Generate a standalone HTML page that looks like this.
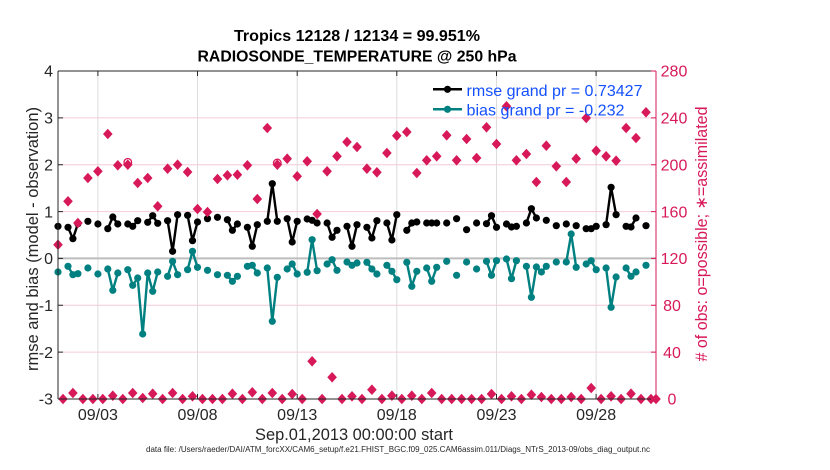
<!DOCTYPE html>
<html><head><meta charset="utf-8"><style>
html,body{margin:0;padding:0;background:#fff;}
svg{display:block;}
</style></head><body>
<svg width="830" height="470" viewBox="0 0 830 470" xmlns="http://www.w3.org/2000/svg" xmlns:xlink="http://www.w3.org/1999/xlink" font-family="'Liberation Sans', Arial, Helvetica, sans-serif">
<defs>
<path id="d" d="M0,-5.3 L4.8,0 L0,5.3 L-4.8,0Z" fill="#d7195a"/>
</defs>
<rect x="0" y="0" width="830" height="470" fill="#fff"/>
<!-- grid -->
<g stroke="#dddddd" stroke-width="1">
<line x1="97.9" y1="71" x2="97.9" y2="399"/>
<line x1="197.5" y1="71" x2="197.5" y2="399"/>
<line x1="297.2" y1="71" x2="297.2" y2="399"/>
<line x1="396.8" y1="71" x2="396.8" y2="399"/>
<line x1="496.5" y1="71" x2="496.5" y2="399"/>
<line x1="596.1" y1="71" x2="596.1" y2="399"/>
</g>
<g stroke="#f3cbda" stroke-width="1">
<line x1="58" y1="117.9" x2="656" y2="117.9"/>
<line x1="58" y1="164.7" x2="656" y2="164.7"/>
<line x1="58" y1="211.6" x2="656" y2="211.6"/>
<line x1="58" y1="305.3" x2="656" y2="305.3"/>
<line x1="58" y1="352.1" x2="656" y2="352.1"/>
</g>
<line x1="58" y1="258.4" x2="656" y2="258.4" stroke="#bdbdbd" stroke-width="2"/>

<!-- teal bias lines -->
<g fill="none" stroke="#008080" stroke-width="2.4" stroke-linejoin="round">
<polyline points="68.0,266.3 72.9,274.7 77.9,273.7"/>
<polyline points="107.8,269.0 112.8,290.3 117.8,273.0"/>
<polyline points="127.8,269.7 132.7,285.3 137.7,278.0 142.7,334.0 147.7,273.0 152.7,291.3 157.7,272.0"/>
<polyline points="167.6,276.3 172.6,261.3 177.6,274.7"/>
<polyline points="187.6,269.7 192.5,251.3 197.5,267.3"/>
<polyline points="227.4,275.3 232.4,281.3 237.4,276.3"/>
<polyline points="247.4,266.3 252.3,265.3 257.3,273.0"/>
<polyline points="267.3,268.0 272.3,321.3 277.3,277.3"/>
<polyline points="287.2,269.0 292.2,264.0 297.2,274.0"/>
<polyline points="307.2,272.3 312.1,239.7 317.1,270.7"/>
<polyline points="327.1,264.0 332.1,259.7 337.0,270.3"/>
<polyline points="347.0,262.0 352.0,265.3 357.0,263.0"/>
<polyline points="366.9,262.3 371.9,269.0 376.9,274.0"/>
<polyline points="386.9,265.3 391.9,271.3 396.8,279.7"/>
<polyline points="406.8,262.3 411.8,286.3 416.8,271.3"/>
<polyline points="426.7,268.0 431.7,281.3 436.7,267.3"/>
<polyline points="486.5,261.3 491.5,275.3 496.5,260.7"/>
<polyline points="506.5,259.0 511.5,278.7 516.4,260.7"/>
<polyline points="526.4,266.3 531.4,297.3 536.4,267.0 541.4,272.0 546.3,266.3"/>
<polyline points="566.3,262.0 571.2,234.0 576.2,267.3"/>
<polyline points="586.2,264.0 591.2,260.7 596.2,269.7"/>
<polyline points="606.1,268.0 611.1,307.3 616.1,277.0"/>
<polyline points="626.1,268.0 631.0,276.3 636.0,272.0"/>
</g>
<g fill="#008080">
<circle cx="58.0" cy="272.0" r="3.6"/><circle cx="68.0" cy="266.3" r="3.6"/><circle cx="72.9" cy="274.7" r="3.6"/><circle cx="77.9" cy="273.7" r="3.6"/>
<circle cx="87.9" cy="268.0" r="3.6"/><circle cx="97.9" cy="274.0" r="3.6"/><circle cx="107.8" cy="269.0" r="3.6"/><circle cx="112.8" cy="290.3" r="3.6"/><circle cx="117.8" cy="273.0" r="3.6"/>
<circle cx="127.8" cy="269.7" r="3.6"/><circle cx="132.7" cy="285.3" r="3.6"/><circle cx="137.7" cy="278.0" r="3.6"/><circle cx="142.7" cy="334.0" r="3.6"/><circle cx="147.7" cy="273.0" r="3.6"/><circle cx="152.7" cy="291.3" r="3.6"/><circle cx="157.7" cy="272.0" r="3.6"/>
<circle cx="167.6" cy="276.3" r="3.6"/><circle cx="172.6" cy="261.3" r="3.6"/><circle cx="177.6" cy="274.7" r="3.6"/>
<circle cx="187.6" cy="269.7" r="3.6"/><circle cx="192.5" cy="251.3" r="3.6"/><circle cx="197.5" cy="267.3" r="3.6"/>
<circle cx="207.5" cy="270.3" r="3.6"/><circle cx="217.5" cy="274.7" r="3.6"/>
<circle cx="227.4" cy="275.3" r="3.6"/><circle cx="232.4" cy="281.3" r="3.6"/><circle cx="237.4" cy="276.3" r="3.6"/>
<circle cx="247.4" cy="266.3" r="3.6"/><circle cx="252.3" cy="265.3" r="3.6"/><circle cx="257.3" cy="273.0" r="3.6"/>
<circle cx="267.3" cy="268.0" r="3.6"/><circle cx="272.3" cy="321.3" r="3.6"/><circle cx="277.3" cy="277.3" r="3.6"/>
<circle cx="287.2" cy="269.0" r="3.6"/><circle cx="292.2" cy="264.0" r="3.6"/><circle cx="297.2" cy="274.0" r="3.6"/>
<circle cx="307.2" cy="272.3" r="3.6"/><circle cx="312.1" cy="239.7" r="3.6"/><circle cx="317.1" cy="270.7" r="3.6"/>
<circle cx="327.1" cy="264.0" r="3.6"/><circle cx="332.1" cy="259.7" r="3.6"/><circle cx="337.0" cy="270.3" r="3.6"/>
<circle cx="347.0" cy="262.0" r="3.6"/><circle cx="352.0" cy="265.3" r="3.6"/><circle cx="357.0" cy="263.0" r="3.6"/>
<circle cx="366.9" cy="262.3" r="3.6"/><circle cx="371.9" cy="269.0" r="3.6"/><circle cx="376.9" cy="274.0" r="3.6"/>
<circle cx="386.9" cy="265.3" r="3.6"/><circle cx="391.9" cy="271.3" r="3.6"/><circle cx="396.8" cy="279.7" r="3.6"/>
<circle cx="406.8" cy="262.3" r="3.6"/><circle cx="411.8" cy="286.3" r="3.6"/><circle cx="416.8" cy="271.3" r="3.6"/>
<circle cx="426.7" cy="268.0" r="3.6"/><circle cx="431.7" cy="281.3" r="3.6"/><circle cx="436.7" cy="267.3" r="3.6"/>
<circle cx="446.7" cy="261.3" r="3.6"/><circle cx="456.6" cy="275.3" r="3.6"/><circle cx="466.6" cy="262.0" r="3.6"/><circle cx="476.6" cy="269.0" r="3.6"/>
<circle cx="486.5" cy="261.3" r="3.6"/><circle cx="491.5" cy="275.3" r="3.6"/><circle cx="496.5" cy="260.7" r="3.6"/>
<circle cx="506.5" cy="259.0" r="3.6"/><circle cx="511.5" cy="278.7" r="3.6"/><circle cx="516.4" cy="260.7" r="3.6"/>
<circle cx="526.4" cy="266.3" r="3.6"/><circle cx="531.4" cy="297.3" r="3.6"/><circle cx="536.4" cy="267.0" r="3.6"/><circle cx="541.4" cy="272.0" r="3.6"/><circle cx="546.3" cy="266.3" r="3.6"/>
<circle cx="556.3" cy="262.0" r="3.6"/>
<circle cx="566.3" cy="262.0" r="3.6"/><circle cx="571.2" cy="234.0" r="3.6"/><circle cx="576.2" cy="267.3" r="3.6"/>
<circle cx="586.2" cy="264.0" r="3.6"/><circle cx="591.2" cy="260.7" r="3.6"/><circle cx="596.2" cy="269.7" r="3.6"/>
<circle cx="606.1" cy="268.0" r="3.6"/><circle cx="611.1" cy="307.3" r="3.6"/><circle cx="616.1" cy="277.0" r="3.6"/>
<circle cx="626.1" cy="268.0" r="3.6"/><circle cx="631.0" cy="276.3" r="3.6"/><circle cx="636.0" cy="272.0" r="3.6"/>
<circle cx="646.0" cy="265.3" r="3.6"/>
</g>

<!-- black rmse lines -->
<g fill="none" stroke="#000" stroke-width="2.4" stroke-linejoin="round">
<polyline points="68.0,227.3 72.9,238.7 77.9,223.7"/>
<polyline points="107.8,228.7 112.8,217.0 117.8,224.0"/>
<polyline points="127.8,224.0 132.7,226.3 137.7,220.7"/>
<polyline points="147.7,222.3 152.7,215.7 157.7,223.3"/>
<polyline points="167.6,220.7 172.6,251.3 177.6,214.7"/>
<polyline points="187.6,215.3 192.5,240.7 197.5,222.0"/>
<polyline points="227.4,219.7 232.4,230.3 237.4,224.0"/>
<polyline points="247.4,227.3 252.3,246.3 257.3,224.7"/>
<polyline points="267.3,221.3 272.3,183.7 277.3,221.3"/>
<polyline points="287.2,218.7 292.2,242.0 297.2,221.3"/>
<polyline points="307.2,219.0 312.1,220.3 317.1,223.0"/>
<polyline points="327.1,223.0 332.1,237.3 337.0,230.3"/>
<polyline points="347.0,226.3 352.0,246.3 357.0,224.7"/>
<polyline points="366.9,227.3 371.9,238.0 376.9,220.7"/>
<polyline points="386.9,223.0 391.9,240.0 396.8,214.7"/>
<polyline points="406.8,230.3 411.8,223.0 416.8,222.0"/>
<polyline points="426.7,223.0 431.7,223.0 436.7,223.0"/>
<polyline points="486.5,223.7 491.5,215.7 496.5,227.3"/>
<polyline points="506.5,224.0 511.5,227.0 516.4,226.3"/>
<polyline points="526.4,223.0 531.4,208.7 536.4,218.0"/>
<polyline points="586.2,228.7 591.2,228.7 596.2,226.3"/>
<polyline points="606.1,224.7 611.1,187.3 616.1,214.7"/>
<polyline points="626.1,226.3 631.0,227.0 636.0,218.0"/>
</g>
<g fill="#000">
<circle cx="58.0" cy="226.3" r="3.6"/><circle cx="68.0" cy="227.3" r="3.6"/><circle cx="72.9" cy="238.7" r="3.6"/><circle cx="77.9" cy="223.7" r="3.6"/>
<circle cx="87.9" cy="221.3" r="3.6"/><circle cx="97.9" cy="224.0" r="3.6"/>
<circle cx="107.8" cy="228.7" r="3.6"/><circle cx="112.8" cy="217.0" r="3.6"/><circle cx="117.8" cy="224.0" r="3.6"/>
<circle cx="127.8" cy="224.0" r="3.6"/><circle cx="132.7" cy="226.3" r="3.6"/><circle cx="137.7" cy="220.7" r="3.6"/>
<circle cx="147.7" cy="222.3" r="3.6"/><circle cx="152.7" cy="215.7" r="3.6"/><circle cx="157.7" cy="223.3" r="3.6"/>
<circle cx="167.6" cy="220.7" r="3.6"/><circle cx="172.6" cy="251.3" r="3.6"/><circle cx="177.6" cy="214.7" r="3.6"/>
<circle cx="187.6" cy="215.3" r="3.6"/><circle cx="192.5" cy="240.7" r="3.6"/><circle cx="197.5" cy="222.0" r="3.6"/>
<circle cx="207.5" cy="218.7" r="3.6"/><circle cx="217.5" cy="217.3" r="3.6"/>
<circle cx="227.4" cy="219.7" r="3.6"/><circle cx="232.4" cy="230.3" r="3.6"/><circle cx="237.4" cy="224.0" r="3.6"/>
<circle cx="247.4" cy="227.3" r="3.6"/><circle cx="252.3" cy="246.3" r="3.6"/><circle cx="257.3" cy="224.7" r="3.6"/>
<circle cx="267.3" cy="221.3" r="3.6"/><circle cx="272.3" cy="183.7" r="3.6"/><circle cx="277.3" cy="221.3" r="3.6"/>
<circle cx="287.2" cy="218.7" r="3.6"/><circle cx="292.2" cy="242.0" r="3.6"/><circle cx="297.2" cy="221.3" r="3.6"/>
<circle cx="307.2" cy="219.0" r="3.6"/><circle cx="312.1" cy="220.3" r="3.6"/><circle cx="317.1" cy="223.0" r="3.6"/>
<circle cx="327.1" cy="223.0" r="3.6"/><circle cx="332.1" cy="237.3" r="3.6"/><circle cx="337.0" cy="230.3" r="3.6"/>
<circle cx="347.0" cy="226.3" r="3.6"/><circle cx="352.0" cy="246.3" r="3.6"/><circle cx="357.0" cy="224.7" r="3.6"/>
<circle cx="366.9" cy="227.3" r="3.6"/><circle cx="371.9" cy="238.0" r="3.6"/><circle cx="376.9" cy="220.7" r="3.6"/>
<circle cx="386.9" cy="223.0" r="3.6"/><circle cx="391.9" cy="240.0" r="3.6"/><circle cx="396.8" cy="214.7" r="3.6"/>
<circle cx="406.8" cy="230.3" r="3.6"/><circle cx="411.8" cy="223.0" r="3.6"/><circle cx="416.8" cy="222.0" r="3.6"/>
<circle cx="426.7" cy="223.0" r="3.6"/><circle cx="431.7" cy="223.0" r="3.6"/><circle cx="436.7" cy="223.0" r="3.6"/>
<circle cx="446.7" cy="223.0" r="3.6"/><circle cx="456.6" cy="218.7" r="3.6"/><circle cx="466.6" cy="229.7" r="3.6"/><circle cx="476.6" cy="223.0" r="3.6"/>
<circle cx="486.5" cy="223.7" r="3.6"/><circle cx="491.5" cy="215.7" r="3.6"/><circle cx="496.5" cy="227.3" r="3.6"/>
<circle cx="506.5" cy="224.0" r="3.6"/><circle cx="511.5" cy="227.0" r="3.6"/><circle cx="516.4" cy="226.3" r="3.6"/>
<circle cx="526.4" cy="223.0" r="3.6"/><circle cx="531.4" cy="208.7" r="3.6"/><circle cx="536.4" cy="218.0" r="3.6"/>
<circle cx="546.3" cy="220.3" r="3.6"/><circle cx="556.3" cy="225.7" r="3.6"/><circle cx="566.3" cy="224.0" r="3.6"/><circle cx="576.2" cy="225.7" r="3.6"/>
<circle cx="586.2" cy="228.7" r="3.6"/><circle cx="591.2" cy="228.7" r="3.6"/><circle cx="596.2" cy="226.3" r="3.6"/>
<circle cx="606.1" cy="224.7" r="3.6"/><circle cx="611.1" cy="187.3" r="3.6"/><circle cx="616.1" cy="214.7" r="3.6"/>
<circle cx="626.1" cy="226.3" r="3.6"/><circle cx="631.0" cy="227.0" r="3.6"/><circle cx="636.0" cy="218.0" r="3.6"/>
<circle cx="646.0" cy="225.7" r="3.6"/>
</g>

<!-- obs counts -->
<g fill="none" stroke="#d7195a" stroke-width="1.3">
<circle cx="127.8" cy="162.3" r="3.8"/>
<circle cx="277.3" cy="163.0" r="3.8"/>
</g>
<g>
<use xlink:href="#d" x="58.0" y="244.7"/><use xlink:href="#d" x="68.0" y="201.3"/><use xlink:href="#d" x="77.9" y="223.0"/><use xlink:href="#d" x="87.9" y="178.0"/>
<use xlink:href="#d" x="97.9" y="171.3"/><use xlink:href="#d" x="107.8" y="134.0"/><use xlink:href="#d" x="117.8" y="165.3"/><use xlink:href="#d" x="127.8" y="164.7"/>
<use xlink:href="#d" x="137.7" y="183.0"/><use xlink:href="#d" x="147.7" y="178.0"/><use xlink:href="#d" x="157.7" y="206.3"/><use xlink:href="#d" x="167.6" y="168.7"/>
<use xlink:href="#d" x="177.6" y="164.7"/><use xlink:href="#d" x="187.6" y="172.0"/><use xlink:href="#d" x="197.5" y="209.0"/><use xlink:href="#d" x="207.5" y="212.0"/>
<use xlink:href="#d" x="217.5" y="179.0"/><use xlink:href="#d" x="227.4" y="175.3"/><use xlink:href="#d" x="237.4" y="174.7"/><use xlink:href="#d" x="247.4" y="165.3"/>
<use xlink:href="#d" x="257.3" y="199.0"/><use xlink:href="#d" x="267.3" y="128.0"/><use xlink:href="#d" x="277.3" y="164.7"/><use xlink:href="#d" x="287.2" y="158.7"/>
<use xlink:href="#d" x="297.2" y="176.3"/><use xlink:href="#d" x="307.2" y="161.3"/><use xlink:href="#d" x="317.1" y="214.0"/><use xlink:href="#d" x="327.1" y="171.3"/>
<use xlink:href="#d" x="337.0" y="156.3"/><use xlink:href="#d" x="347.0" y="142.0"/><use xlink:href="#d" x="357.0" y="147.0"/><use xlink:href="#d" x="366.9" y="168.7"/>
<use xlink:href="#d" x="376.9" y="172.3"/><use xlink:href="#d" x="386.9" y="153.0"/><use xlink:href="#d" x="396.8" y="135.7"/><use xlink:href="#d" x="406.8" y="132.0"/>
<use xlink:href="#d" x="416.8" y="173.0"/><use xlink:href="#d" x="426.7" y="160.3"/><use xlink:href="#d" x="436.7" y="156.3"/><use xlink:href="#d" x="446.7" y="135.3"/>
<use xlink:href="#d" x="456.6" y="160.3"/><use xlink:href="#d" x="466.6" y="139.0"/><use xlink:href="#d" x="476.6" y="158.0"/><use xlink:href="#d" x="486.5" y="127.3"/>
<use xlink:href="#d" x="496.5" y="144.0"/><use xlink:href="#d" x="506.5" y="106.3"/><use xlink:href="#d" x="516.4" y="160.3"/><use xlink:href="#d" x="526.4" y="154.0"/>
<use xlink:href="#d" x="536.4" y="182.0"/><use xlink:href="#d" x="546.3" y="145.7"/><use xlink:href="#d" x="556.3" y="166.3"/><use xlink:href="#d" x="566.3" y="182.0"/>
<use xlink:href="#d" x="576.2" y="158.7"/><use xlink:href="#d" x="586.2" y="118.0"/><use xlink:href="#d" x="596.2" y="150.7"/><use xlink:href="#d" x="606.1" y="156.3"/>
<use xlink:href="#d" x="616.1" y="160.7"/><use xlink:href="#d" x="626.1" y="128.0"/><use xlink:href="#d" x="636.0" y="138.0"/><use xlink:href="#d" x="646.0" y="112.3"/>

<use xlink:href="#d" x="63.0" y="399"/><use xlink:href="#d" x="72.9" y="393"/><use xlink:href="#d" x="82.9" y="399"/><use xlink:href="#d" x="92.9" y="399"/>
<use xlink:href="#d" x="102.8" y="399"/><use xlink:href="#d" x="112.8" y="395.7"/><use xlink:href="#d" x="122.8" y="399"/><use xlink:href="#d" x="132.7" y="393"/>
<use xlink:href="#d" x="142.7" y="398"/><use xlink:href="#d" x="152.7" y="393.7"/><use xlink:href="#d" x="162.6" y="399"/><use xlink:href="#d" x="172.6" y="393"/>
<use xlink:href="#d" x="182.6" y="399"/><use xlink:href="#d" x="192.5" y="396.3"/><use xlink:href="#d" x="202.5" y="399"/><use xlink:href="#d" x="212.5" y="399"/>
<use xlink:href="#d" x="222.4" y="399"/><use xlink:href="#d" x="232.4" y="393.7"/><use xlink:href="#d" x="242.4" y="399"/><use xlink:href="#d" x="252.3" y="392.3"/>
<use xlink:href="#d" x="262.3" y="399"/><use xlink:href="#d" x="272.3" y="393"/><use xlink:href="#d" x="282.2" y="399"/><use xlink:href="#d" x="292.2" y="394"/>
<use xlink:href="#d" x="302.2" y="399"/><use xlink:href="#d" x="312.1" y="361.3"/><use xlink:href="#d" x="322.1" y="399"/><use xlink:href="#d" x="332.1" y="377.3"/>
<use xlink:href="#d" x="342.0" y="399"/><use xlink:href="#d" x="352.0" y="396.3"/><use xlink:href="#d" x="362.0" y="399"/><use xlink:href="#d" x="371.9" y="389.7"/>
<use xlink:href="#d" x="381.9" y="399"/><use xlink:href="#d" x="391.9" y="395.7"/><use xlink:href="#d" x="401.8" y="399"/><use xlink:href="#d" x="411.8" y="395.7"/>
<use xlink:href="#d" x="421.8" y="399"/><use xlink:href="#d" x="431.7" y="393"/><use xlink:href="#d" x="441.7" y="399"/><use xlink:href="#d" x="451.7" y="399"/>
<use xlink:href="#d" x="461.6" y="399"/><use xlink:href="#d" x="471.6" y="399"/><use xlink:href="#d" x="481.6" y="399"/><use xlink:href="#d" x="491.5" y="394"/>
<use xlink:href="#d" x="501.5" y="399"/><use xlink:href="#d" x="511.5" y="396.3"/><use xlink:href="#d" x="521.4" y="399"/><use xlink:href="#d" x="531.4" y="394.7"/>
<use xlink:href="#d" x="541.4" y="397"/><use xlink:href="#d" x="551.3" y="399"/><use xlink:href="#d" x="561.3" y="399"/><use xlink:href="#d" x="571.2" y="397"/>
<use xlink:href="#d" x="581.2" y="399"/><use xlink:href="#d" x="591.2" y="388"/><use xlink:href="#d" x="601.1" y="399"/><use xlink:href="#d" x="611.1" y="396.3"/>
<use xlink:href="#d" x="621.1" y="399"/><use xlink:href="#d" x="631.0" y="393.7"/><use xlink:href="#d" x="641.0" y="399"/><use xlink:href="#d" x="651.0" y="399"/>
<use xlink:href="#d" x="656.0" y="399"/>
</g>

<!-- axes -->
<g stroke="#262626" stroke-width="1" fill="none">
<line x1="58" y1="71" x2="656" y2="71"/>
<line x1="58" y1="399" x2="656" y2="399"/>
<line x1="58" y1="71" x2="58" y2="399"/>
<!-- x ticks bottom & top -->
<path d="M97.9,399v-5M197.5,399v-5M297.2,399v-5M396.8,399v-5M496.5,399v-5M596.1,399v-5M97.9,71v5M197.5,71v5M297.2,71v5M396.8,71v5M496.5,71v5M596.1,71v5"/>
<!-- left y ticks -->
<path d="M58,71h5M58,117.9h5M58,164.7h5M58,211.6h5M58,258.4h5M58,305.3h5M58,352.1h5M58,399h5"/>
</g>
<g stroke="#d7195a" stroke-width="1" fill="none">
<line x1="656" y1="71" x2="656" y2="399"/>
<path d="M656,71h-5M656,117.9h-5M656,164.7h-5M656,211.6h-5M656,258.4h-5M656,305.3h-5M656,352.1h-5M656,399h-5"/>
</g>

<!-- left tick labels -->
<g font-size="16" fill="#262626" text-anchor="end">
<text x="53" y="76.7">4</text>
<text x="53" y="123.6">3</text>
<text x="53" y="170.4">2</text>
<text x="53" y="217.3">1</text>
<text x="53" y="264.1">0</text>
<text x="53" y="311">-1</text>
<text x="53" y="357.8">-2</text>
<text x="53" y="404.7">-3</text>
</g>
<!-- right tick labels -->
<g font-size="16" fill="#d7195a" text-anchor="middle">
<text x="674" y="76.7">280</text>
<text x="674" y="123.6">240</text>
<text x="674" y="170.4">200</text>
<text x="674" y="217.3">160</text>
<text x="674" y="264.1">120</text>
<text x="672" y="311">80</text>
<text x="672" y="357.8">40</text>
<text x="672" y="404.7">0</text>
</g>
<!-- x tick labels -->
<g font-size="16" fill="#262626" text-anchor="middle">
<text x="97.9" y="420">09/03</text>
<text x="197.5" y="420">09/08</text>
<text x="297.2" y="420">09/13</text>
<text x="396.8" y="420">09/18</text>
<text x="496.5" y="420">09/23</text>
<text x="596.1" y="420">09/28</text>
</g>
<text x="354" y="440" font-size="16.5" fill="#262626" text-anchor="middle" textLength="198" lengthAdjust="spacingAndGlyphs">Sep.01,2013 00:00:00 start</text>
<text x="146" y="452" font-size="8" fill="#262626" textLength="504" lengthAdjust="spacingAndGlyphs">data file: /Users/raeder/DAI/ATM_forcXX/CAM6_setup/f.e21.FHIST_BGC.f09_025.CAM6assim.011/Diags_NTrS_2013-09/obs_diag_output.nc</text>

<!-- axis labels -->
<text transform="translate(38,239) rotate(-90)" font-size="16.5" fill="#262626" text-anchor="middle" textLength="264" lengthAdjust="spacingAndGlyphs">rmse and bias (model - observation)</text>
<text transform="translate(707,234) rotate(-90)" font-size="16.5" fill="#d7195a" text-anchor="middle" textLength="255" lengthAdjust="spacingAndGlyphs"># of obs: o=possible; ∗=assimilated</text>

<!-- title -->
<text x="357" y="41" font-size="15.5" font-weight="bold" fill="#000" text-anchor="middle" textLength="246" lengthAdjust="spacingAndGlyphs">Tropics 12128 / 12134 = 99.951%</text>
<text x="357" y="61.5" font-size="15.5" font-weight="bold" fill="#000" text-anchor="middle" textLength="319" lengthAdjust="spacingAndGlyphs">RADIOSONDE_TEMPERATURE @ 250 hPa</text>

<!-- legend -->
<line x1="433" y1="89.3" x2="462" y2="89.3" stroke="#000" stroke-width="2.5"/>
<circle cx="447.5" cy="89.3" r="3.6" fill="#000"/>
<line x1="433" y1="109.3" x2="462" y2="109.3" stroke="#008080" stroke-width="2.5"/>
<circle cx="447.5" cy="109.3" r="3.6" fill="#008080"/>
<text x="466.5" y="96" font-size="16" fill="#1450ff" textLength="176" lengthAdjust="spacingAndGlyphs">rmse grand pr = 0.73427</text>
<text x="466.5" y="115.5" font-size="16" fill="#1450ff" textLength="158" lengthAdjust="spacingAndGlyphs">bias grand pr = -0.232</text>
</svg>
</body></html>
